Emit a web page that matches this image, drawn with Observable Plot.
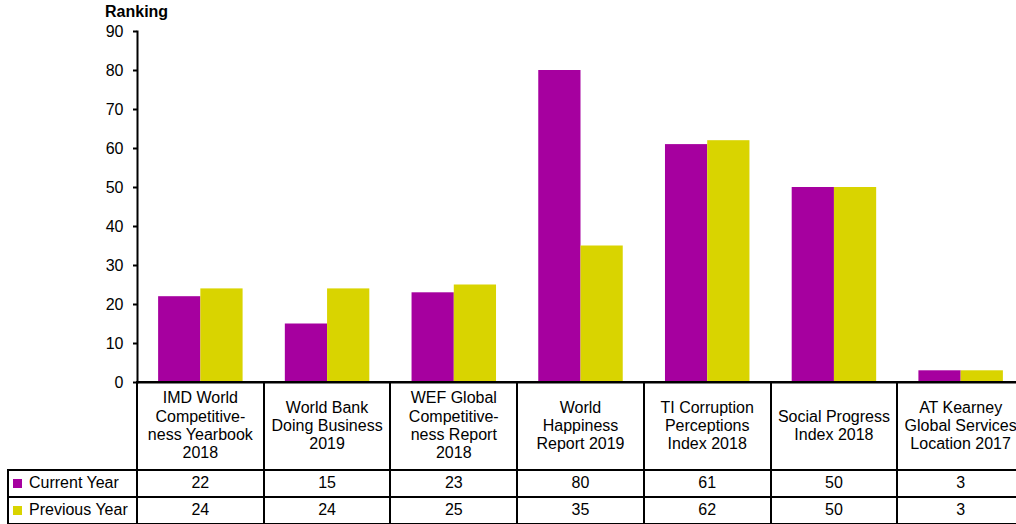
<!DOCTYPE html>
<html>
<head>
<meta charset="utf-8">
<script src="https://cdn.jsdelivr.net/npm/d3@7"></script>
<script src="https://cdn.jsdelivr.net/npm/@observablehq/plot@0.6"></script>
<style>
  html, body { margin: 0; padding: 0; background: #fff; overflow: hidden; }
  body { font-family: "Liberation Sans", Arial, sans-serif; color: #000; }
  #wrap { position: relative; width: 1024px; height: 524px; }
  .cell { position: absolute; box-sizing: border-box; border: 2px solid #000;
          display: flex; align-items: center; justify-content: center; text-align: center;
          font-size: 16px; line-height: 18.3px; white-space: pre-line; background: transparent; }
  .lead { justify-content: flex-start; }
  .sw { display: inline-block; width: 9px; height: 9px; margin: 0 7px 0 4px; }
  #ylabel { position: absolute; left: 105px; top: 3px; font-weight: bold; font-size: 16px; }
</style>
</head>
<body>
<div id="wrap"></div>
<script>
// ---- data ----
const categories = [
  "IMD World\nCompetitive-\nness Yearbook\n2018",
  "World Bank\nDoing Business\n2019",
  "WEF Global\nCompetitive-\nness Report\n2018",
  "World\nHappiness\nReport 2019",
  "TI Corruption\nPerceptions\nIndex 2018",
  "Social Progress\nIndex 2018",
  "AT Kearney\nGlobal Services\nLocation 2017"
];
const seriesNames = ["Current Year", "Previous Year"];
const currentYear = [22, 15, 23, 80, 61, 50, 3];
const previousYear = [24, 24, 25, 35, 62, 50, 3];
const seriesColors = ["#A6009F", "#D9D400"];
const yTicks = [0, 10, 20, 30, 40, 50, 60, 70, 80, 90];
const yLabel = "Ranking";

const rows = [];
categories.forEach((c, i) => {
  rows.push({cat: c, series: seriesNames[0], value: currentYear[i]});
  rows.push({cat: c, series: seriesNames[1], value: previousYear[i]});
});

const plot = Plot.plot({
  width: 1024,
  height: 524,
  marginTop: 31,
  marginBottom: 142,
  marginLeft: 137,
  marginRight: 0,
  style: {fontFamily: "Liberation Sans, Arial, sans-serif", fontSize: "16px", color: "#000", background: "transparent"},
  fx: {domain: categories, padding: 0, round: false, axis: null},
  x: {domain: seriesNames, paddingInner: 0, paddingOuter: 0.5, round: false, axis: null},
  y: {domain: [0, 90], axis: null},
  color: {domain: seriesNames, range: seriesColors},
  marks: [
    Plot.barY(rows, {fx: "cat", x: "series", y: "value", fill: "series"}),
    Plot.axisY({ticks: yTicks, tickSize: 4, tickPadding: 10, fontSize: 16, strokeWidth: 2, label: null, facetAnchor: "left"}),
    Plot.frame({anchor: "left", strokeWidth: 2, facetAnchor: "left"}),
    Plot.ruleY([0], {strokeWidth: 2})
  ]
});

const wrap = document.getElementById("wrap");
wrap.appendChild(plot);

const lab = document.createElement("div");
lab.id = "ylabel";
lab.textContent = yLabel;
wrap.appendChild(lab);

// ---- data table aligned to the facet scale ----
const fx = plot.scale("fx");
const ysc = plot.scale("y");
const bw = fx.bandwidth;
const y0 = ysc.apply(0);
const rowB = [y0, 470, 497, 524];
const tableLeft = 8;

function cell(x1, x2, r1, r2, html, cls) {
  const d = document.createElement("div");
  d.className = "cell" + (cls ? " " + cls : "");
  d.style.left = (x1 - 1) + "px";
  d.style.top = (r1 - 1) + "px";
  d.style.width = (x2 - x1 + 2) + "px";
  d.style.height = (r2 - r1 + 2) + "px";
  d.innerHTML = html;
  wrap.appendChild(d);
}
const esc = s => s.replace(/&/g, "&amp;").replace(/</g, "&lt;");
categories.forEach((c, i) => {
  const x1 = fx.apply(c), x2 = x1 + bw;
  cell(x1, x2, rowB[0], rowB[1], esc(c));
  cell(x1, x2, rowB[1], rowB[2], String(currentYear[i]));
  cell(x1, x2, rowB[2], rowB[3], String(previousYear[i]));
});
const firstX = fx.apply(categories[0]);
seriesNames.forEach((s, k) => {
  cell(tableLeft, firstX, rowB[k + 1], rowB[k + 2],
    `<span class="sw" style="background:${seriesColors[k]}"></span>${esc(s)}`, "lead");
});
</script>
</body>
</html>
